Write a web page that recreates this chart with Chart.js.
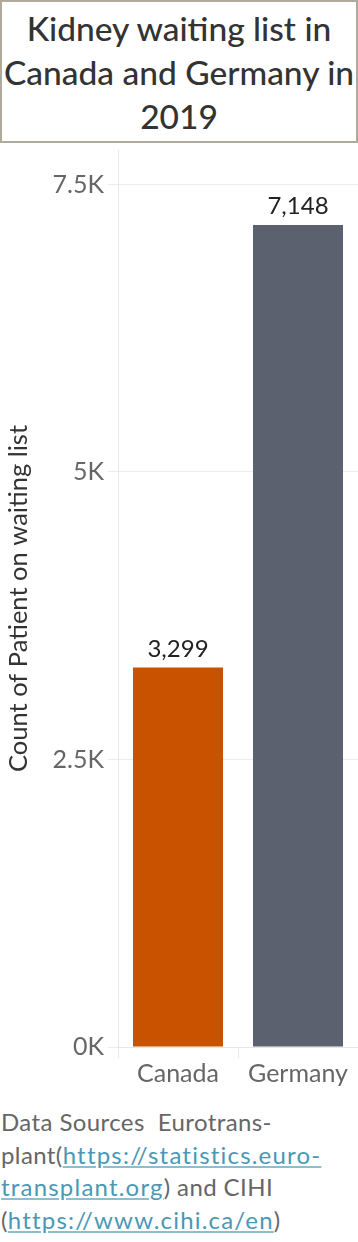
<!DOCTYPE html>
<html>
<head>
<meta charset="utf-8">
<script src="https://cdn.jsdelivr.net/npm/chart.js@4"></script>
<style>
  body { margin: 0; width: 358px; height: 1242px; background: #fff; position: relative; overflow: hidden; font-family: Lato, sans-serif; }
  #title {
    position: absolute; left: 0; top: 0; width: 354px; height: 139px;
    border: 2px solid #aeab9c; text-align: center; white-space: nowrap;
    font-size: 33.5px; font-weight: 500; line-height: 44px; color: #333;
  }
  #title div { padding-top: 4px; }
  #chart-box { position: absolute; left: 0; top: 143px; width: 358px; height: 950px; }
  #footer {
    position: absolute; left: 1px; top: 1106px; width: 357px;
    font-size: 24px; line-height: 32.5px; color: #666; letter-spacing: 0.4px;
    white-space: nowrap;
  }
  #footer a { color: #4a98b5; text-decoration: underline; text-decoration-color: #8dbdd0; letter-spacing: 1.2px; }
</style>
</head>
<body>
<div id="title"><div>Kidney waiting list in<br>Canada and Germany in<br>2019</div></div>
<div id="chart-box"><canvas id="kidney-chart"></canvas></div>
<div id="footer">Data Sources&nbsp; Eurotrans-<br>plant(<a>https://statistics.euro-</a><br><a>transplant.org</a>) and CIHI<br>(<a>https://www.cihi.ca/en</a>)</div>
<script>
// Kidney waiting list bar chart

const countries = ['Canada', 'Germany'];
const patients = [3299, 7148];
const barColors = ['#c85200', '#5b616e'];
const yTickValues = [0, 2500, 5000, 7500];
const yMax = 7800;

const FONT = 'Lato, sans-serif';

const valueLabels = {
    id: 'valueLabels',
    afterDatasetsDraw(chart) {
        const ctx = chart.ctx;
        const meta = chart.getDatasetMeta(0);
        ctx.save();
        ctx.font = '24px ' + FONT;
        ctx.fillStyle = '#222';
        ctx.textAlign = 'center';
        ctx.textBaseline = 'alphabetic';
        meta.data.forEach((bar, i) => {
            ctx.fillText(patients[i].toLocaleString('en-US'), bar.x, bar.y - 11);
        });
        ctx.restore();
    }
};

const ctx = document.getElementById('kidney-chart').getContext('2d');

const kidneyChart = new Chart(ctx, {
    type: 'bar',
    data: {
        labels: countries,
        datasets: [{
            data: patients,
            backgroundColor: barColors,
            barPercentage: 0.75,
            categoryPercentage: 1.0
        }]
    },
    options: {
        responsive: true,
        maintainAspectRatio: false,
        animation: false,
        layout: {
            padding: { top: 7, right: 0, left: 0, bottom: 0 }
        },
        plugins: {
            legend: { display: false },
            tooltip: { enabled: false }
        },
        scales: {
            x: {
                grid: {
                    offset: true,
                    drawOnChartArea: false,
                    color: '#e6e6e6',
                    tickLength: 11
                },
                border: { color: '#e6e6e6' },
                ticks: {
                    color: '#666',
                    font: { family: FONT, size: 25 },
                    padding: 1
                },
                afterFit(scale) {
                    scale.height = 46;
                }
            },
            y: {
                min: 0,
                max: yMax,
                afterBuildTicks(scale) {
                    scale.ticks = yTickValues.map(v => ({ value: v }));
                },
                grid: {
                    color: '#ececec',
                    tickLength: 10
                },
                border: { color: '#e6e6e6' },
                ticks: {
                    color: '#666',
                    font: { family: FONT, size: 25 },
                    padding: 4,
                    callback: function(value) {
                        return (value / 1000) + 'K';
                    }
                },
                title: {
                    display: true,
                    text: 'Count of Patient on waiting list',
                    color: '#333',
                    font: { family: FONT, size: 25.5 },
                    padding: { top: 3, bottom: 0 }
                },
                afterFit(scale) {
                    scale.width = 118;
                    scale.paddingTop = 0;
                }
            }
        }
    },
    plugins: [valueLabels]
});
</script>
</body>
</html>
